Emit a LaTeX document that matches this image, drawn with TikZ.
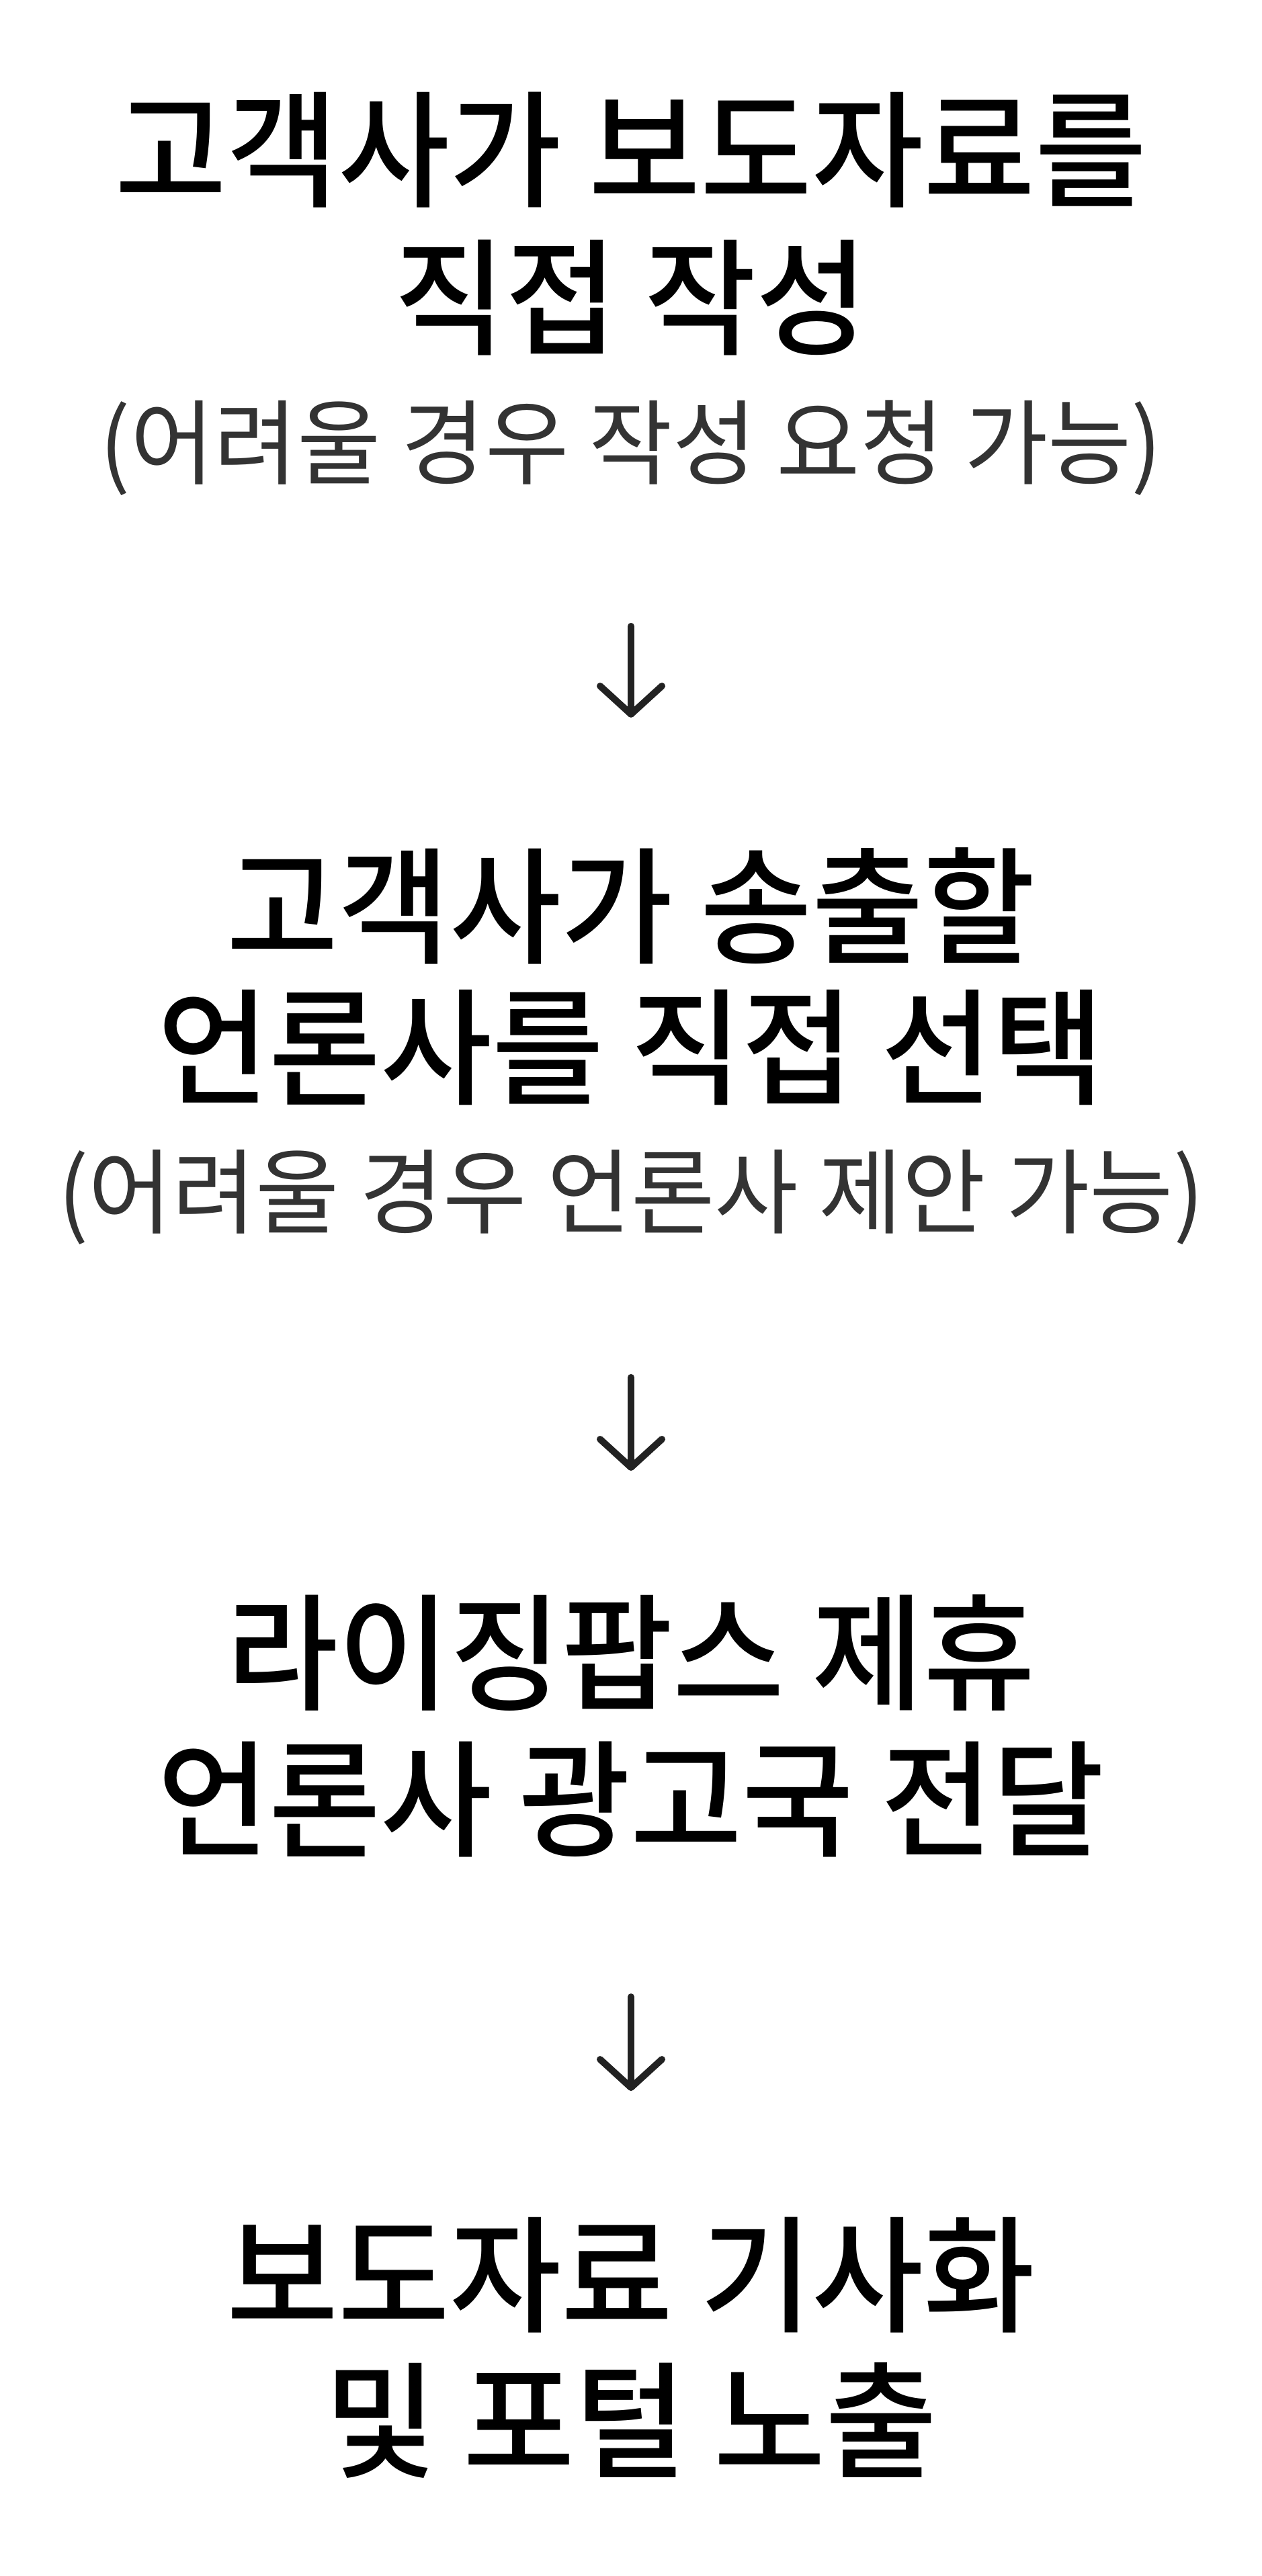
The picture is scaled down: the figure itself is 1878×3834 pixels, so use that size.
\documentclass[tikz,border=0pt]{standalone}
\usepackage{fontspec}
\setmainfont{Noto Sans CJK KR}
\newfontfamily\headfont{Noto Sans CJK KR Medium}[FakeStretch=0.96]
\newfontfamily\notefont{Noto Sans CJK KR}[FakeStretch=0.98]
\usetikzlibrary{arrows.meta}
\definecolor{notegray}{HTML}{333333}
\definecolor{arrowgray}{HTML}{222222}
\tikzset{
  headline/.style={anchor=base,inner sep=0pt,
    font=\headfont\fontsize{94}{110}\selectfont},
  noteline/.style={anchor=base,inner sep=0pt,text=notegray,
    font=\notefont\fontsize{69}{80}\selectfont},
  flow/.style={arrowgray,line width=5pt,line cap=round,
    -{Straight Barb[length=21pt,width=46pt,round]}}
}
\begin{document}
\begin{tikzpicture}[x=0.5pt,y=-0.5pt]
  \useasboundingbox[fill=white] (0,0) rectangle (1878,3834);
  % step 1
  \node[headline] (t1a) at (939,293) {고객사가 보도자료를};
  \node[headline] (t1b) at (939,513) {직접 작성};
  \node[noteline] (s1) at (939,710) {(어려울 경우 작성 요청 가능)};
  % step 2
  \node[headline] (t2a) at (939,1419) {고객사가 송출할};
  \node[headline] (t2b) at (939,1629) {언론사를 직접 선택};
  \node[noteline] (s2) at (939,1825) {(어려울 경우 언론사 제안 가능)};
  % step 3
  \node[headline] (t3a) at (939,2530) {라이징팝스 제휴};
  \node[headline] (t3b) at (939,2748) {언론사 광고국 전달};
  % step 4
  \node[headline] (t4a) at (939,3456) {보도자료 기사화};
  \node[headline] (t4b) at (939,3673) {및 포털 노출};
  % arrows
  \foreach \i/\ya/\yb in {1/932/1068,2/2050/2189,3/2972/3112}{
    \coordinate (a\i top) at (939,\ya);
    \coordinate (a\i tip) at (939,\yb);
    \draw[flow] (a\i top) -- (a\i tip);
  }
\end{tikzpicture}
\end{document}
